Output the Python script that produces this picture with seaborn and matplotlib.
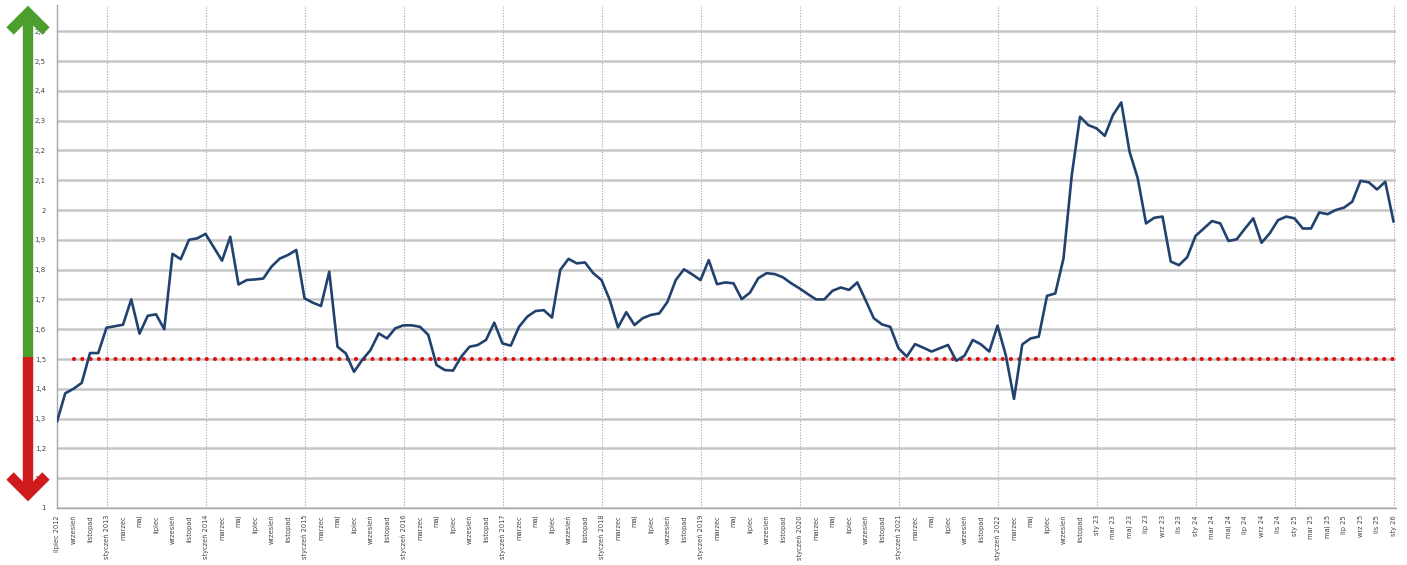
import numpy as np
import pandas as pd
import matplotlib
matplotlib.use("Agg")
import matplotlib.pyplot as plt
from matplotlib.lines import Line2D
import seaborn as sns

# ---------------- data ----------------
start_year = 2012
start_month = 7  # lipiec 2012
values = [
    1.29, 1.385, 1.40, 1.42, 1.52, 1.52, 1.605, 1.61, 1.615, 1.70, 1.585, 1.645,
    1.65, 1.60, 1.853, 1.835, 1.90, 1.905, 1.92, 1.875, 1.83, 1.91, 1.75, 1.765,
    1.767, 1.77, 1.81, 1.837, 1.849, 1.866, 1.704, 1.689, 1.678, 1.793, 1.541, 1.519,
    1.457, 1.497, 1.530, 1.586, 1.569, 1.603, 1.613, 1.613, 1.608, 1.581, 1.480, 1.463,
    1.461, 1.508, 1.541, 1.547, 1.564, 1.622, 1.552, 1.545, 1.608, 1.642, 1.661, 1.664,
    1.639, 1.799, 1.836, 1.821, 1.824, 1.788, 1.765, 1.698, 1.606, 1.657, 1.614, 1.637,
    1.648, 1.653, 1.692, 1.765, 1.801, 1.784, 1.765, 1.832, 1.751, 1.757, 1.754, 1.701,
    1.723, 1.771, 1.788, 1.785, 1.774, 1.754, 1.737, 1.718, 1.700, 1.700, 1.729, 1.740,
    1.732, 1.757, 1.698, 1.637, 1.616, 1.608, 1.536, 1.508, 1.550, 1.538, 1.525, 1.536,
    1.547, 1.494, 1.511, 1.564, 1.549, 1.525, 1.612, 1.513, 1.366, 1.549, 1.569, 1.575,
    1.712, 1.720, 1.838, 2.117, 2.313, 2.285, 2.274, 2.249, 2.319, 2.361, 2.196, 2.106,
    1.955, 1.974, 1.978, 1.827, 1.815, 1.842, 1.913, 1.938, 1.963, 1.955, 1.896, 1.902,
    1.938, 1.972, 1.890, 1.922, 1.966, 1.978, 1.972, 1.938, 1.938, 1.992, 1.986, 2.000,
    2.008, 2.028, 2.098, 2.093, 2.069, 2.095, 1.961,
]
threshold = 1.5
threshold_start = 2  # first month index of the dotted threshold series
month_names = ["styczeń", "luty", "marzec", "kwiecień", "maj", "czerwiec",
               "lipiec", "sierpień", "wrzesień", "październik", "listopad", "grudzień"]
month_short = ["sty", "lut", "mar", "kwi", "maj", "cze",
               "lip", "sie", "wrz", "paź", "lis", "gru"]
y_ticks = [1.0, 1.1, 1.2, 1.3, 1.4, 1.5, 1.6, 1.7, 1.8, 1.9, 2.0, 2.1, 2.2, 2.3, 2.4, 2.5, 2.6]
y_tick_labels = ["1", "1,1", "1,2", "1,3", "1,4", "1,5", "1,6", "1,7", "1,8", "1,9",
                 "2", "2,1", "2,2", "2,3", "2,4", "2,5", "2,6"]

# ---------------- frame ----------------
idx = np.arange(len(values))
years = [start_year + (start_month - 1 + i) // 12 for i in idx]
months = [(start_month - 1 + i) % 12 for i in idx]
df = pd.DataFrame({"m": idx, "value": values})

def label_for(i):
    y, mo = years[i], months[i]
    if y >= 2023:
        return f"{month_short[mo]} {str(y)[2:]}"
    if i == 0 or mo == 0:
        return f"{month_names[mo]} {y}"
    return month_names[mo]

tick_pos = [i for i in idx if i % 2 == 0]
tick_labels = [label_for(i) for i in tick_pos]
year_starts = [i for i in idx if months[i] == 0]

sns.set_style("white")
plt.rcParams["font.family"] = ["DejaVu Sans"]

W, H = 1407, 565
fig = plt.figure(figsize=(W / 100, H / 100), dpi=100)
fig.patch.set_facecolor("white")
ax = fig.add_axes([57 / W, 1 - 508 / H, (1396 - 57) / W, (508 - 5) / H])

# grid
ax.set_ylim(1.0, 2.688)
ax.set_xlim(0, len(values) - 1 + 0.3)
ax.set_yticks(y_ticks)
ax.set_yticklabels(y_tick_labels, fontsize=5, color="#444444")
ax.yaxis.grid(True, color="#c6c6c6", linewidth=1.8)
ax.set_axisbelow(True)
for ys in year_starts:
    ax.axvline(ys, color="#93a7c4", linestyle=(0, (1, 1.5)), linewidth=0.8, zorder=0)

# threshold dotted line
ax.plot([threshold_start, len(values) - 1], [threshold, threshold], color="#e01010",
        linewidth=3.0, linestyle=(0, (0.01, 1.98)), dash_capstyle="round", zorder=3)

sns.lineplot(data=df, x="m", y="value", ax=ax, color="#21426f", linewidth=1.9, zorder=4)

ax.set_xticks(tick_pos)
ax.set_xticklabels(tick_labels, rotation=90, fontsize=4.8, color="#444444")
ax.set_xticks(idx, minor=True)
ax.tick_params(axis="x", which="major", length=3, width=0.6, color="#999999", pad=2)
ax.tick_params(axis="x", which="minor", length=2, width=0.5, color="#aaaaaa")
ax.tick_params(axis="y", length=0, pad=8)
ax.set_xlabel("")
ax.set_ylabel("")
for s in ["top", "right"]:
    ax.spines[s].set_visible(False)
for s in ["left", "bottom"]:
    ax.spines[s].set_color("#a8a8a8")
    ax.spines[s].set_linewidth(1.0)

# ---------------- arrows (figure pixel coords) ----------------
def fx(px):
    return px / W

def fy(py):
    return 1 - py / H

lw_arrow = 7.5
green = "#4c9f2f"
red = "#cf1b1b"
fig.add_artist(Line2D([fx(28), fx(28)], [fy(357), fy(16)], color=green,
                      linewidth=lw_arrow, solid_capstyle="butt"))
fig.add_artist(Line2D([fx(10), fx(28), fx(46)], [fy(31), fy(13), fy(31)], color=green,
                      linewidth=lw_arrow, solid_joinstyle="miter", solid_capstyle="butt"))
fig.add_artist(Line2D([fx(28), fx(28)], [fy(357), fy(490)], color=red,
                      linewidth=lw_arrow, solid_capstyle="butt"))
fig.add_artist(Line2D([fx(10), fx(28), fx(46)], [fy(476), fy(494), fy(476)], color=red,
                      linewidth=lw_arrow, solid_joinstyle="miter", solid_capstyle="butt"))

fig.savefig("out.png", dpi=100, facecolor="white")
